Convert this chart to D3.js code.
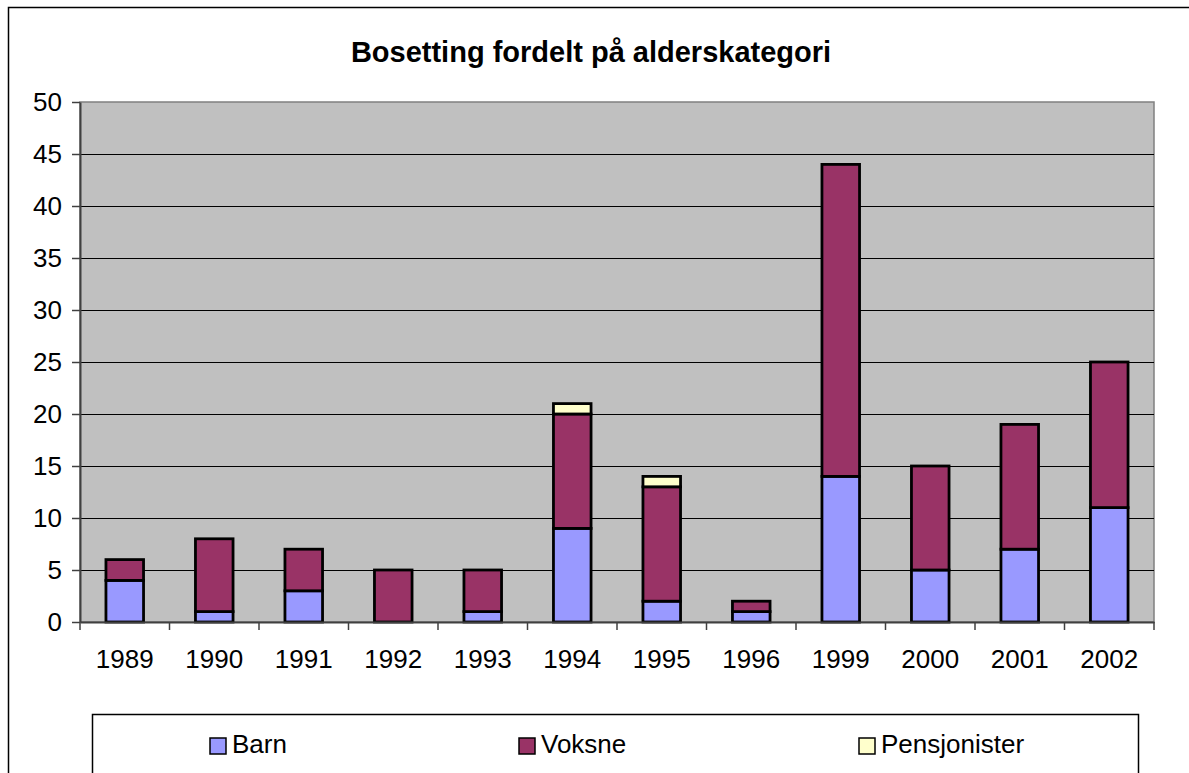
<!DOCTYPE html>
<html>
<head>
<meta charset="utf-8">
<script src="https://cdn.jsdelivr.net/npm/d3@7"></script>
<style>
  body { margin: 0; background: #fff; }
  text { font-family: Arial, "Liberation Sans", sans-serif; fill: #000; }
</style>
</head>
<body>
<svg id="chart" width="1189" height="773"></svg>
<script>
// data
const years = ["1989", "1990", "1991", "1992", "1993", "1994", "1995", "1996", "1999", "2000", "2001", "2002"];
const barn = [4, 1, 3, 0, 1, 9, 2, 1, 14, 5, 7, 11];
const voksne = [2, 7, 4, 5, 4, 11, 11, 1, 30, 10, 12, 14];
const pensjonister = [0, 0, 0, 0, 0, 1, 1, 0, 0, 0, 0, 0];
const seriesNames = ["Barn", "Voksne", "Pensjonister"];
const seriesColors = ["#9999ff", "#993366", "#ffffcc"];
const yTicks = [0, 5, 10, 15, 20, 25, 30, 35, 40, 45, 50];

const svg = d3.select("#chart");
const plot = {left: 80, top: 102, right: 1154, bottom: 622};

// outer chart border (runs off the picture right and bottom)
svg.append("rect")
    .attr("x", 8.5).attr("y", 7.5)
    .attr("width", 1300).attr("height", 900)
    .attr("fill", "#fff")
    .attr("stroke", "#000")
    .attr("stroke-width", 1.5);

svg.append("text")
    .attr("x", 591).attr("y", 62)
    .attr("text-anchor", "middle")
    .style("font-size", "29px")
    .style("font-weight", "bold")
    .text("Bosetting fordelt på alderskategori");

const x = d3.scaleBand()
    .domain(years)
    .range([plot.left, plot.right]);

const y = d3.scaleLinear()
    .domain([0, 50])
    .range([plot.bottom, plot.top]);

// plot area
svg.append("rect")
    .attr("x", plot.left).attr("y", plot.top)
    .attr("width", plot.right - plot.left)
    .attr("height", plot.bottom - plot.top)
    .attr("fill", "#c0c0c0")
    .attr("stroke", "#808080")
    .attr("stroke-width", 1.5);

svg.append("g")
    .selectAll("line")
    .data(yTicks.filter(d => d > 0 && d < 50))
    .join("line")
    .attr("x1", plot.left).attr("x2", plot.right)
    .attr("y1", d => Math.round(y(d)) + 0.5)
    .attr("y2", d => Math.round(y(d)) + 0.5)
    .attr("stroke", "#000")
    .attr("stroke-width", 1.2);

// stacked bars
const rows = years.map((yr, i) => ({year: yr, Barn: barn[i], Voksne: voksne[i], Pensjonister: pensjonister[i]}));
const stacked = d3.stack().keys(seriesNames)(rows);
const barW = x.bandwidth() * 0.42;

svg.append("g")
    .selectAll("g")
    .data(stacked)
    .join("g")
    .attr("fill", (d, i) => seriesColors[i])
    .selectAll("rect")
    .data(d => d.filter(s => s[1] - s[0] > 0))
    .join("rect")
    .attr("x", d => x(d.data.year) + (x.bandwidth() - barW) / 2)
    .attr("y", d => y(d[1]))
    .attr("width", barW)
    .attr("height", d => y(d[0]) - y(d[1]))
    .attr("stroke", "#000")
    .attr("stroke-width", 2.8);

// y axis
const yAxis = svg.append("g")
    .attr("transform", `translate(${plot.left},0)`)
    .call(d3.axisLeft(y).tickValues(yTicks).tickSize(8).tickPadding(10).tickSizeOuter(0));
yAxis.select(".domain").attr("stroke", "#404040").attr("stroke-width", 2);
yAxis.selectAll(".tick line").attr("stroke", "#404040").attr("stroke-width", 1.5);
yAxis.selectAll("text").style("font-size", "26px").attr("font-family", null);

// x axis: ticks sit on category boundaries
const xAxis = svg.append("g")
    .attr("transform", `translate(0,${plot.bottom})`)
    .call(d3.axisBottom(x).tickSize(0).tickPadding(28));
xAxis.select(".domain").attr("stroke", "#404040").attr("stroke-width", 2);
xAxis.selectAll("text").style("font-size", "26px").attr("font-family", null);
xAxis.selectAll("line.bound")
    .data(years.map(d => x(d)).concat([plot.right]))
    .join("line")
    .attr("class", "bound")
    .attr("x1", d => d).attr("x2", d => d)
    .attr("y1", 0).attr("y2", 8)
    .attr("stroke", "#404040")
    .attr("stroke-width", 1.5);

// legend
svg.append("rect")
    .attr("x", 92.5).attr("y", 714.5)
    .attr("width", 1046).attr("height", 100)
    .attr("fill", "#fff")
    .attr("stroke", "#000")
    .attr("stroke-width", 1.5);

const legendX = [210, 519, 859];
const legend = svg.append("g")
    .selectAll("g")
    .data(seriesNames)
    .join("g")
    .attr("transform", (d, i) => `translate(${legendX[i]},738)`);
legend.append("rect")
    .attr("width", 16).attr("height", 16)
    .attr("fill", (d, i) => seriesColors[i])
    .attr("stroke", "#000")
    .attr("stroke-width", 1.5);
legend.append("text")
    .attr("x", 22).attr("y", 15)
    .style("font-size", "26px")
    .text(d => d);
</script>
</body>
</html>
